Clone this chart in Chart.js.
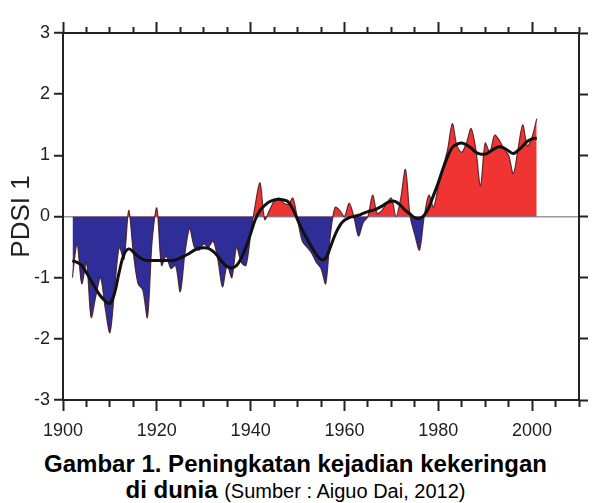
<!DOCTYPE html>
<html>
<head>
<meta charset="utf-8">
<script src="https://cdn.jsdelivr.net/npm/chart.js@4.4.0/dist/chart.umd.min.js"></script>
<style>
  html, body { margin: 0; padding: 0; background: #fff; }
  body { width: 609px; height: 503px; position: relative; overflow: hidden; font-family: "Liberation Sans", Arial, sans-serif; }
  #wrap { position: absolute; left: 0; top: 0; width: 609px; height: 445px; }
  .cap { position: absolute; left: 0; width: 591px; text-align: center; font-size: 24px; line-height: 24px; color: #000; white-space: nowrap; }
  #cap1 { top: 452px; font-weight: bold; }
  #cap2 { top: 478px; }
  #cap2 span { font-size: 20px; }
</style>
</head>
<body>
<div id="wrap"><canvas id="chart"></canvas></div>
<div class="cap" id="cap1">Gambar 1. Peningkatan kejadian kekeringan</div>
<div class="cap" id="cap2"><b>di dunia</b> <span>(Sumber : Aiguo Dai, 2012)</span></div>
<script>
// tahun (1902 - 2001)
const years = [
  1902, 1903, 1904, 1905, 1906, 1907, 1908, 1909, 1910, 1911,
  1912, 1913, 1914, 1915, 1916, 1917, 1918, 1919, 1920, 1921,
  1922, 1923, 1924, 1925, 1926, 1927, 1928, 1929, 1930, 1931,
  1932, 1933, 1934, 1935, 1936, 1937, 1938, 1939, 1940, 1941,
  1942, 1943, 1944, 1945, 1946, 1947, 1948, 1949, 1950, 1951,
  1952, 1953, 1954, 1955, 1956, 1957, 1958, 1959, 1960, 1961,
  1962, 1963, 1964, 1965, 1966, 1967, 1968, 1969, 1970, 1971,
  1972, 1973, 1974, 1975, 1976, 1977, 1978, 1979, 1980, 1981,
  1982, 1983, 1984, 1985, 1986, 1987, 1988, 1989, 1990, 1991,
  1992, 1993, 1994, 1995, 1996, 1997, 1998, 1999, 2000, 2001
];

// PDSI tahunan
const pdsiAnnual = [
  -1.0, -0.45, -1.1, -0.75, -1.65, -1.3, -1.0, -1.5, -1.9, -1.2,
  -0.5, -0.7, 0.1, -0.6, -1.1, -1.2, -1.65, -0.4, 0.14, -0.8,
  -0.65, -0.85, -0.8, -1.23, -0.6, -0.2, -0.5, -0.55, -0.45, -0.5,
  -0.4, -0.7, -1.15, -0.8, -1.0, -0.5, -0.75, -0.8, -0.3, 0.2,
  0.55, -0.05, 0.1, 0.25, 0.3, 0.22, 0.2, 0.3, -0.05, -0.4,
  -0.5, -0.6, -0.75, -0.85, -1.1, -0.3, 0.15, 0.1, 0.0, 0.22,
  0.0, -0.32, -0.1, 0.0, 0.35, 0.05, 0.1, 0.22, 0.3, 0.0,
  0.3, 0.77, 0.0, -0.3, -0.55, 0.0, 0.35, 0.15, 0.5, 0.8,
  1.1, 1.52, 1.15, 1.05, 1.2, 1.44, 1.1, 0.5, 1.2, 1.05,
  1.33, 1.25, 1.1, 1.0, 0.7, 1.1, 1.5, 1.15, 1.3, 1.6
];

// kurva halus (garis hitam tebal)
const pdsiSmooth = [
  -0.72, -0.75, -0.8, -0.92, -1.05, -1.18, -1.3, -1.38, -1.42, -1.25,
  -0.9, -0.62, -0.53, -0.58, -0.65, -0.7, -0.72, -0.72, -0.72, -0.72,
  -0.72, -0.72, -0.71, -0.68, -0.64, -0.6, -0.55, -0.52, -0.51, -0.52,
  -0.57, -0.65, -0.75, -0.82, -0.84, -0.8, -0.68, -0.5, -0.28, -0.05,
  0.1, 0.18, 0.24, 0.27, 0.28, 0.27, 0.24, 0.12, -0.05, -0.22,
  -0.36, -0.5, -0.62, -0.7, -0.68, -0.5, -0.3, -0.15, -0.06, -0.02,
  0.0, 0.02, 0.05, 0.08, 0.1, 0.13, 0.17, 0.22, 0.25, 0.24,
  0.18, 0.1, 0.04, -0.02, -0.03, 0.02, 0.15, 0.35, 0.55, 0.78,
  0.98, 1.13, 1.18, 1.2, 1.17, 1.12, 1.05, 1.02, 1.02, 1.06,
  1.11, 1.14, 1.12, 1.07, 1.03, 1.08, 1.15, 1.23, 1.27, 1.28
];

const xTickLabels = [1900, 1920, 1940, 1960, 1980, 2000];
const yTickLabels = [-3, -2, -1, 0, 1, 2, 3];

const sans = '"Liberation Sans", Arial, sans-serif';
const axisColor = '#222';

// tick panjang untuk label utama, pendek untuk yang lain
const bottomDash = ctx => xTickLabels.includes(ctx.tick.value) ? [] : [6, 100];
const topDash = ctx => xTickLabels.includes(ctx.tick.value) ? [] : [0, 5, 6, 100];

const xCommon = {
  type: 'linear',
  min: 1900,
  max: 2010,
  border: { color: axisColor, width: 2 },
  grid: {
    drawOnChartArea: false,
    tickLength: 11,
    tickWidth: 2,
    tickColor: axisColor
  }
};

new Chart(document.getElementById('chart'), {
  type: 'line',
  data: {
    datasets: [
      {
        label: 'PDSI',
        data: years.map((yr, i) => ({ x: yr, y: pdsiAnnual[i] })),
        borderColor: 'rgba(70,25,25,0.85)',
        borderWidth: 1.2,
        pointRadius: 0,
        tension: 0.3,
        order: 1,
        fill: { target: { value: 0 }, above: '#f03434', below: '#2f2d98' }
      },
      {
        label: 'Smooth',
        data: years.map((yr, i) => ({ x: yr, y: pdsiSmooth[i] })),
        borderColor: '#111',
        borderWidth: 3,
        pointRadius: 0,
        tension: 0.4,
        order: 0,
        fill: false
      }
    ]
  },
  options: {
    responsive: true,
    maintainAspectRatio: false,
    animation: false,
    layout: { padding: 0 },
    plugins: { legend: { display: false }, tooltip: { enabled: false } },
    scales: {
      x: Object.assign({}, xCommon, {
        position: 'bottom',
        grid: Object.assign({}, xCommon.grid, { tickBorderDash: bottomDash }),
        ticks: {
          stepSize: 5,
          autoSkip: false,
          maxRotation: 0,
          padding: 9,
          color: '#222',
          font: { family: sans, size: 18 },
          callback: v => xTickLabels.includes(v) ? String(v) : ''
        },
        afterFit: s => { s.height = 45; }
      }),
      xTop: Object.assign({}, xCommon, {
        position: 'top',
        grid: Object.assign({}, xCommon.grid, { tickBorderDash: topDash }),
        ticks: { stepSize: 5, autoSkip: false, display: false },
        afterFit: s => { s.height = 33; }
      }),
      y: {
        position: 'left',
        min: -3,
        max: 3,
        border: { color: axisColor, width: 2 },
        grid: {
          color: ctx => (ctx.tick && ctx.tick.value === 0) ? '#9c9c9c' : 'rgba(0,0,0,0)',
          lineWidth: 1.5,
          tickLength: 9,
          tickWidth: 2,
          tickColor: axisColor
        },
        ticks: {
          stepSize: 1,
          padding: 4,
          color: '#222',
          font: { family: sans, size: 18 },
          callback: v => yTickLabels.includes(v) ? String(v) : ''
        },
        title: {
          display: true,
          text: 'PDSI 1',
          color: '#222',
          font: { family: sans, size: 26 },
          padding: { top: 6, bottom: 0 }
        },
        afterFit: s => { s.width = 63; }
      },
      yRight: {
        position: 'right',
        min: -3,
        max: 3,
        border: { color: axisColor, width: 2 },
        grid: {
          drawOnChartArea: false,
          tickLength: 9,
          tickWidth: 2,
          tickColor: axisColor
        },
        ticks: { stepSize: 1, display: false },
        afterFit: s => { s.width = 30; }
      }
    }
  }
});
</script>
</body>
</html>
